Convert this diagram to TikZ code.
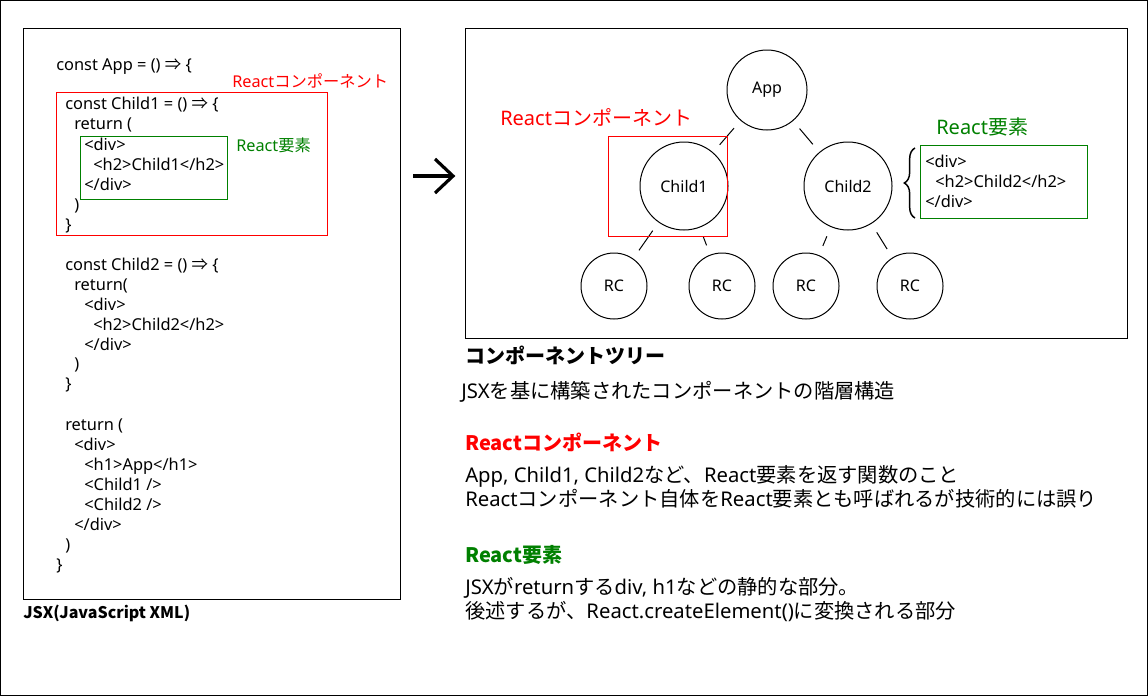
\documentclass[tikz,border=0pt]{standalone}
\usepackage{fontspec}
\setmainfont{Noto Sans}
\newfontfamily\jp{Noto Sans CJK JP}
\usetikzlibrary{decorations.pathreplacing}
\definecolor{rred}{RGB}{255,0,0}
\definecolor{rgreen}{RGB}{0,128,0}
\begin{document}
\begin{tikzpicture}[x=0.75pt,y=-0.75pt,
  txt/.style={anchor=west,inner sep=0pt,text height=0.85em,text depth=0.15em},
  code/.style={txt,font=\fontsize{12.3}{13}\selectfont},
  body/.style={txt,font=\fontsize{15.2}{16}\selectfont},
  head/.style={txt,font=\fontsize{15}{16}\selectfont\jp\bfseries},
  tnode/.style={circle,draw,line width=0.75pt,inner sep=0pt,font=\fontsize{12}{13}\selectfont},
  edge/.style={line width=0.75pt,shorten <=7.5pt,shorten >=7.5pt},
  box/.style={line width=0.75pt}]
\useasboundingbox (0,0) rectangle (1148,696);
\draw[line width=1pt] (0.5,0.5) rectangle (1147.5,695.5);

% left code panel
\draw[box] (23,28) rectangle (400,599);
\node[txt,font=\fontsize{12}{13}\selectfont\jp\bfseries] (jsx) at (23,614) {JSX(JavaScript XML)};
\draw[box,rred] (56,92) rectangle (327,235);
\draw[box,rgreen] (80,136) rectangle (227,199);
\node[code,rred,font=\fontsize{12.2}{13}\selectfont] (lrc) at (232,83) {React{\jp コンポーネント}};
\node[code,rgreen,font=\fontsize{12.2}{13}\selectfont] (lre) at (236,147) {React{\jp 要素}};
\node[code] (a1) at (56,66) {const App = () {\jp ⇒} \{};
\node[code] (a2) at (65,105) {const Child1 = () {\jp ⇒} \{};
\node[code] (a3) at (74,125) {return (};
\node[code] (a4) at (84,146) {<div>};
\node[code] (a5) at (93,166) {<h2>Child1</h2>};
\node[code] (a6) at (84,186) {</div>};
\node[code] (a7) at (74,206) {)};
\node[code] (a8) at (65,226) {\}};
\node[code] (b1) at (65,266) {const Child2 = () {\jp ⇒} \{};
\node[code] (b2) at (74,286) {return(};
\node[code] (b3) at (84,306) {<div>};
\node[code] (b4) at (93,326) {<h2>Child2</h2>};
\node[code] (b5) at (84,346) {</div>};
\node[code] (b6) at (74,365) {)};
\node[code] (b7) at (65,385) {\}};
\node[code] (c1) at (65,426) {return (};
\node[code] (c2) at (74,446) {<div>};
\node[code] (c3) at (84,466) {<h1>App</h1>};
\node[code] (c4) at (84,486) {<Child1 />};
\node[code] (c5) at (84,506) {<Child2 />};
\node[code] (c6) at (74,526) {</div>};
\node[code] (c7) at (65,546) {)};
\node[code] (c8) at (56,566) {\}};

% arrow
\draw[line width=2.4pt] (413,176) -- (453,176);
\draw[line width=2.4pt,line join=miter] (435,159) -- (453,176) -- (435,193);

% right tree panel
\draw[box] (465,28) rectangle (1127,338);
\node[tnode,minimum size=60pt] (app) at (767,90) {App};
\node[tnode,minimum size=66pt] (ch1) at (684,186) {Child1};
\node[tnode,minimum size=66pt] (ch2) at (848,186) {Child2};
\node[tnode,minimum size=49.5pt] (rc1) at (614,286) {RC};
\node[tnode,minimum size=49.5pt] (rc2) at (722,286) {RC};
\node[tnode,minimum size=49.5pt] (rc3) at (806,286) {RC};
\node[tnode,minimum size=49.5pt] (rc4) at (910,286) {RC};
\draw[edge] (app) -- (ch1);
\draw[edge] (app) -- (ch2);
\draw[edge] (ch1) -- (rc1);
\draw[edge] (ch1) -- (rc2);
\draw[edge] (ch2) -- (rc3);
\draw[edge] (ch2) -- (rc4);
\draw[box,rred] (608,136) rectangle (727,236);
\node[txt,font=\fontsize{15}{16}\selectfont,rred] (trc) at (500,121) {React{\jp コンポーネント}};
\node[txt,font=\fontsize{15}{16}\selectfont,rgreen] (tre) at (936,130) {React{\jp 要素}};
\draw[line width=1.1pt,decorate,decoration={brace,amplitude=8pt}] (915,218) -- (915,148);
\draw[box,rgreen] (920,145) rectangle (1087,218);
\node[code] (d1) at (925,163) {<div>};
\node[code] (d2) at (935,183) {<h2>Child2</h2>};
\node[code] (d3) at (925,203) {</div>};

% explanations
\node[head] (h1) at (465,359) {コンポーネントツリー};
\node[body] (t1) at (461,394) {JSX{\jp を基に構築されたコンポーネントの階層構造}};
\node[head,rred] (h2) at (465,446) {Reactコンポーネント};
\node[body] (t2) at (465,478) {App, Child1, Child2{\jp など、}React{\jp 要素を返す関数のこと}};
\node[body] (t3) at (465,502) {React{\jp コンポーネント自体を}React{\jp 要素とも呼ばれるが技術的には誤り}};
\node[head,rgreen] (h3) at (465,558) {React要素};
\node[body] (t4) at (465,590) {JSX{\jp が}return{\jp する}div, h1{\jp などの静的な部分。}};
\node[body] (t5) at (465,614) {{\jp 後述するが、}React.createElement(){\jp に変換される部分}};
\end{tikzpicture}
\end{document}
